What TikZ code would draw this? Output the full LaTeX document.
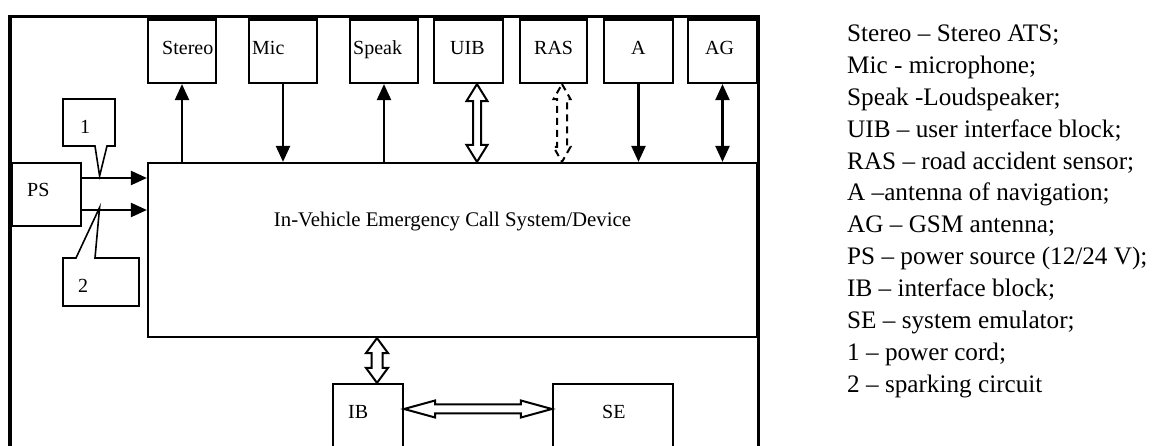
\documentclass[tikz,border=0pt]{standalone}
\usepackage{fontspec}
\setmainfont{Liberation Serif}
\usetikzlibrary{arrows.meta,calc}
\newcommand{\hollowdarrow}[6][]{%
  \draw[hollow,#1] (#2)
    -- ($(#2)!#4!(#3)!#5!90:(#3)$)
    -- ($(#2)!#4!(#3)!#6!90:(#3)$)
    -- ($(#3)!#4!(#2)!#6!-90:(#2)$)
    -- ($(#3)!#4!(#2)!#5!-90:(#2)$)
    -- (#3)
    -- ($(#3)!#4!(#2)!#5!90:(#2)$)
    -- ($(#3)!#4!(#2)!#6!90:(#2)$)
    -- ($(#2)!#4!(#3)!#6!-90:(#3)$)
    -- ($(#2)!#4!(#3)!#5!-90:(#3)$)
    -- cycle;}
\tikzset{
  frame/.style={line width=3.5pt},
  box/.style 2 args={draw, line width=2.2pt, inner sep=0pt, minimum width=#1, minimum height=#2},
  lbl/.style={inner sep=0pt, anchor=base west, font=\fontsize{20}{24}\selectfont},
  tipA/.tip={Triangle[length=16pt,width=14pt]},
  arr/.style={line width=2.2pt, -tipA},
  darr/.style={line width=2.2pt, tipA-tipA},
  hollow/.style={line width=2pt, line join=miter, fill=white},
  callout/.style={line width=1.6pt, line join=miter, fill=white},
}
\begin{document}
\begin{tikzpicture}[x=1pt,y=-1pt]
\useasboundingbox (0,0) rectangle (1152,446);
\clip (0,0) rectangle (1152,446);
% outer frame
\draw[frame] (10,480) -- (10,16.5) -- (758.5,16.5) -- (758.5,480);
% top boxes
\node[box={68}{63.5}] (stereo) at (182,51.25) {};
\node[box={68}{63.5}] (mic) at (283,51.25) {};
\node[box={68}{63.5}] (speak) at (384,51.25) {};
\node[box={69}{63.5}] (uib) at (468.5,51.25) {};
\node[box={67}{63.5}] (ras) at (553.5,51.25) {};
\node[box={69}{63.5}] (ant) at (638.5,51.25) {};
\node[box={69}{63.5}] (ag) at (722.5,51.25) {};
% main, PS, IB, SE
\node[box={609}{174}] (main) at (452.5,250) {};
\node[box={69}{63}] (ps) at (46.5,194.5) {};
\node[box={70}{80}] (ib) at (368,424) {};
\node[box={120}{80}] (se) at (613,424) {};
% labels
\node[lbl] (tStereo) at (162,54.5) {Stereo};
\node[lbl] (tMic) at (252,54.5) {Mic};
\node[lbl] (tSpeak) at (353,54.5) {Speak};
\node[lbl] (tUIB) at (450,54.5) {UIB};
\node[lbl] (tRAS) at (534,54.5) {RAS};
\node[lbl] (tA) at (631,54.5) {A};
\node[lbl] (tAG) at (705,54.5) {AG};
\node[lbl] (tPS) at (27,197) {PS};
\node[lbl] (tIB) at (348,419) {IB};
\node[lbl] (tSE) at (602,419) {SE};
\node[lbl, anchor=base, font=\fontsize{20.8}{25}\selectfont] (tMain) at (452.5,227) {In-Vehicle Emergency Call System/Device};
% PS arrows and callouts
\coordinate (ps1) at ($(ps.east)+(0,-16.5)$);
\coordinate (ps2) at ($(ps.east)+(0,15.5)$);
\coordinate (tip1) at ($(ps1)+(17.5,-2)$);
\coordinate (tip2) at ($(ps2)+(17.5,-2.5)$);
\draw[callout] (63,99) -- (115,99) -- (115,146) -- (107,146) -- (tip1) -- (95,146) -- (63,146) -- cycle;
\draw[callout] (63,258) -- (76,258) -- (tip2) -- (95,258) -- (139,258) -- (139,306) -- (63,306) -- cycle;
\node[lbl] (t1) at (80,134) {1};
\node[lbl] (t2) at (78,293) {2};
\draw[arr] (ps1) -- (ps1 -| main.west);
\draw[arr] (ps2) -- (ps2 -| main.west);
% solid arrows top
\draw[arr] (main.north -| stereo.south) -- (stereo.south);
\draw[arr] (mic.south) -- (main.north -| mic.south);
\draw[arr] (main.north -| speak.south) -- (speak.south);
\draw[arr] (ant.south) -- (main.north -| ant.south);
\draw[darr] (ag.south) -- (main.north -| ag.south);
% hollow double arrows
\coordinate (uibS) at ($(uib.south)+(8.5,0)$);
\coordinate (uibM) at (uibS |- main.north);
\hollowdarrow{uibS}{uibM}{17pt}{10.5pt}{4pt}
\coordinate (rasS) at ($(ras.south)+(8.5,0)$);
\coordinate (rasM) at (rasS |- main.north);
\hollowdarrow[dash pattern=on 7pt off 5pt]{rasS}{rasM}{15pt}{8.5pt}{5pt}
\coordinate (ibN) at ($(ib.north)+(9,0)$);
\coordinate (ibM) at (ibN |- main.south);
\hollowdarrow{ibM}{ibN}{15pt}{11pt}{5.5pt}
\coordinate (ibE) at ($(ib.east)+(0,-15)$);
\coordinate (seW) at (ibE -| se.west);
\hollowdarrow{ibE}{seW}{31pt}{8.5pt}{4.5pt}
% legend
\node[anchor=north west, inner sep=0pt, align=left, font=\fontsize{25.2}{31.86}\selectfont] (legend) at (847,24.8) {Stereo – Stereo ATS;\\
Mic - microphone;\\
Speak -Loudspeaker;\\
UIB – user interface block;\\
RAS – road accident sensor;\\
A –antenna of navigation;\\
AG – GSM antenna;\\
PS – power source (12/24 V);\\
IB – interface block;\\
SE – system emulator;\\
1 – power cord;\\
2 – sparking circuit};
\end{tikzpicture}
\end{document}
